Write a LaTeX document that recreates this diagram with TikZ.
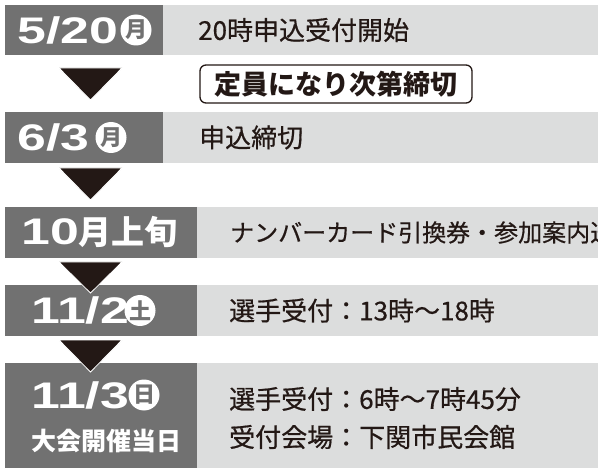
\documentclass[tikz,border=0pt]{standalone}
\usepackage{fontspec}
\setmainfont{Noto Sans CJK JP}
\newfontfamily\jpfont{Noto Sans CJK JP}[FakeBold=0.6]
\newfontfamily\jpbold{Noto Sans CJK JP}
\newfontfamily\datefont{Liberation Sans}[FakeStretch=1.4]
\definecolor{darkbox}{HTML}{717171}
\definecolor{lightbox}{HTML}{DCDDDD}
\definecolor{ink}{HTML}{231815}
\tikzset{
  datebox/.style={fill=darkbox, draw=none, inner sep=0, anchor=north west},
  infobox/.style={fill=lightbox, draw=none, inner sep=0, anchor=north west},
  infotext/.style={anchor=west, inner sep=0, text=ink, font=\jpfont\fontsize{26}{26}\selectfont},
  datetext/.style={anchor=west, inner sep=0, text=white, font=\datefont\bfseries\fontsize{37}{37}\selectfont},
  daycircle/.style={circle, fill=white, minimum size=31pt, inner sep=0, text=darkbox, font=\jpbold\bfseries\fontsize{22}{22}\selectfont},
  downarrow/.style={fill=ink, draw=white, line width=0.8pt, line join=miter},
  callout/.style={draw=ink, line width=1.3pt, rounded corners=6pt, fill=white, minimum width=272, minimum height=38, inner sep=0, text=ink, font=\jpbold\bfseries\fontsize{27}{27}\selectfont}
}
\begin{document}
\begin{tikzpicture}[x=1pt,y=-1pt]
\useasboundingbox (0,0) rectangle (598,468);
\clip (0,0) rectangle (598,468);
\fill[white] (0,0) rectangle (598,468);
% row 1
\node[infobox, minimum width=435, minimum height=50] (l1) at (163,5) {};
\node[datebox, minimum width=158, minimum height=50] (d1) at (5,5) {};
\node[datetext] (dt1) at (17,30) {5/20};
\node[daycircle] (c1) at (136,30) {月};
\node[infotext] (t1) at (198,30) {20時申込受付開始};
% callout
\node[callout] (note) at (336,84) {定員になり次第締切};
% row 2
\node[infobox, minimum width=435, minimum height=51] (l2) at (163,112) {};
\node[datebox, minimum width=158, minimum height=51] (d2) at (5,112) {};
\node[datetext] (dt2) at (17,137.5) {6/3};
\node[daycircle] (c2) at (111,137.5) {月};
\node[infotext] (t2) at (199,137.5) {申込締切};
% row 3
\node[infobox, minimum width=401, minimum height=51] (l3) at (197,207) {};
\node[datebox, minimum width=192, minimum height=51] (d3) at (5,207) {};
\node[anchor=west, inner sep=0, text=white] (dt3) at (21,232.5) {\datefont\bfseries\fontsize{37}{37}\selectfont 10\jpbold\bfseries\fontsize{33}{33}\selectfont 月上旬};
\node[infotext, font=\jpfont\fontsize{24}{24}\selectfont] (t3) at (230,232.5) {ナンバーカード引換券・参加案内送};
% row 4
\node[infobox, minimum width=401, minimum height=51] (l4) at (197,285) {};
\node[datebox, minimum width=192, minimum height=51] (d4) at (5,285) {};
\node[datetext] (dt4) at (31,310.5) {11/2};
\node[daycircle] (c4) at (140,310.5) {土};
\node[infotext] (t4) at (229,310.5) {選手受付：13時〜18時};
% row 5
\node[infobox, minimum width=401, minimum height=105] (l5) at (197,363) {};
\node[datebox, minimum width=192, minimum height=105] (d5) at (5,363) {};
\node[datetext] (dt5) at (31,395) {11/3};
\node[daycircle] (c5) at (144,395) {日};
\node[anchor=west, inner sep=0, text=white, font=\jpbold\bfseries\fontsize{25}{25}\selectfont] (dt5b) at (31,441) {大会開催当日};
\node[infotext] (t5a) at (229,399) {選手受付：6時〜7時45分};
\node[infotext] (t5b) at (229,437) {受付会場：下関市民会館};
% arrows
\coordinate (a1) at (90.5,68);
\filldraw[downarrow] ([xshift=-31.5pt]a1) -- ([xshift=31.5pt]a1) -- ([yshift=-32pt]a1) -- cycle;
\coordinate (a2) at (90.5,168);
\filldraw[downarrow] ([xshift=-31.5pt]a2) -- ([xshift=31.5pt]a2) -- ([yshift=-32pt]a2) -- cycle;
\coordinate (a3) at (90.5,262);
\filldraw[downarrow] ([xshift=-31.5pt]a3) -- ([xshift=31.5pt]a3) -- ([yshift=-31pt]a3) -- cycle;
\coordinate (a4) at (90.5,340);
\filldraw[downarrow] ([xshift=-31.5pt]a4) -- ([xshift=31.5pt]a4) -- ([yshift=-32pt]a4) -- cycle;
\end{tikzpicture}
\end{document}
